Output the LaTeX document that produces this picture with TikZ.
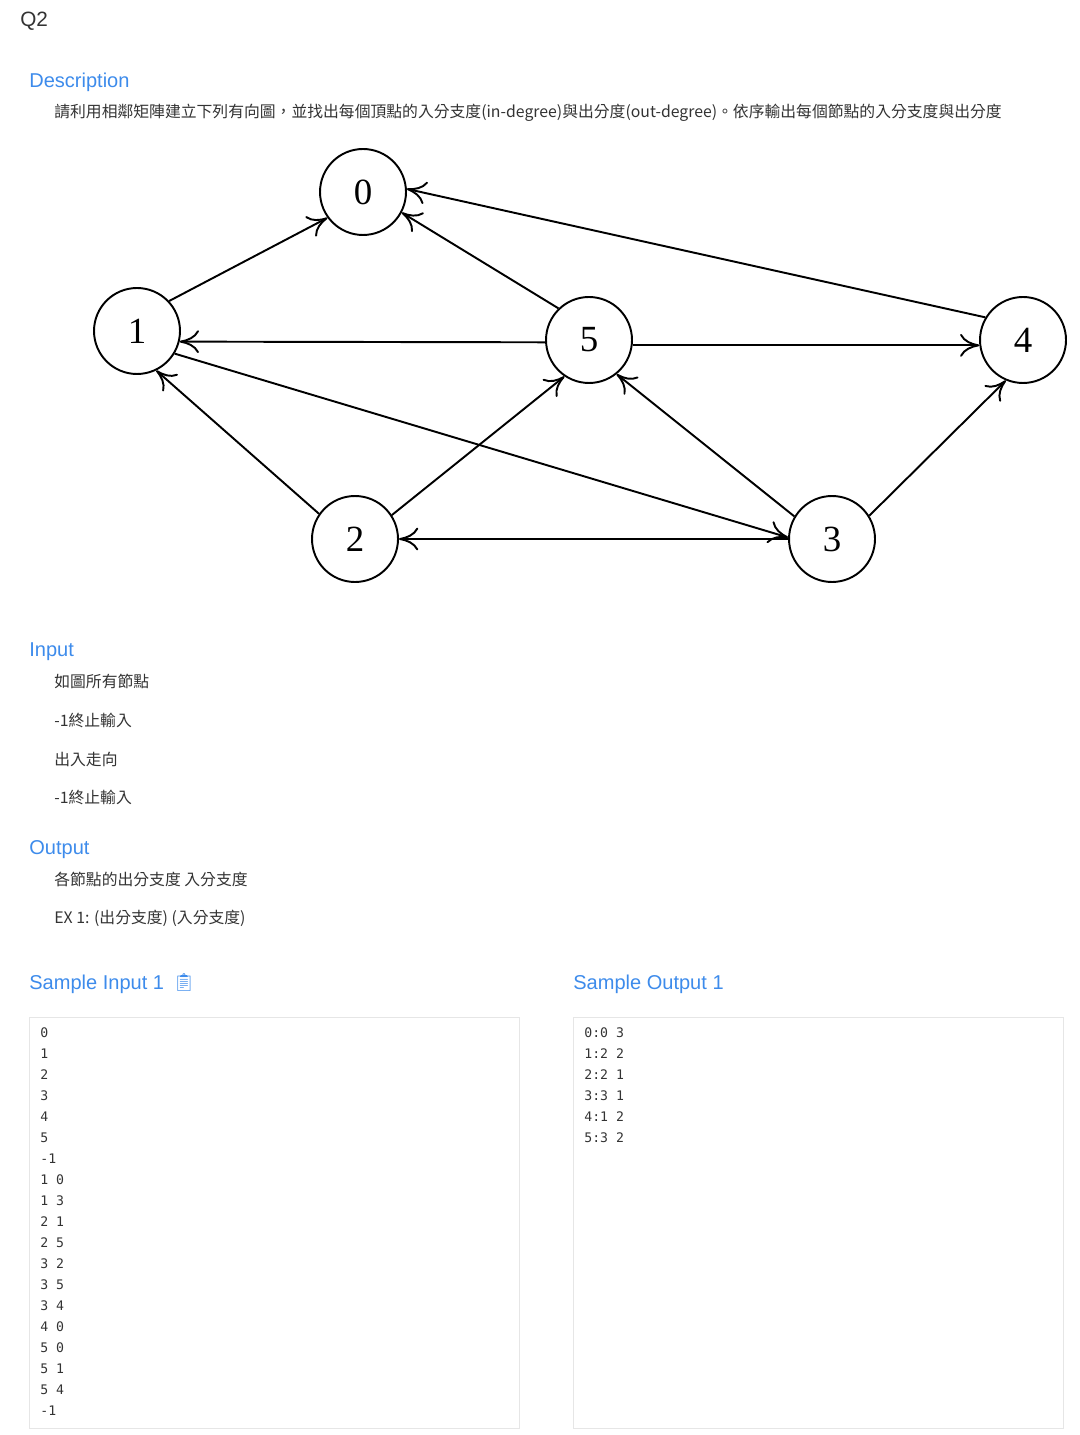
\documentclass[tikz,border=0pt]{standalone}
\usepackage{fontspec}
\setmainfont{Liberation Sans}
\newfontfamily\cjk{Noto Sans CJK TC}
\newfontfamily\digitfont{Liberation Serif}
\newfontfamily\codefont{DejaVu Sans Mono}
\newfontfamily\emojifont{Noto Emoji}
\usepackage{xcolor}
\usetikzlibrary{arrows.meta, positioning}
\definecolor{headblue}{HTML}{3D8BEB}
\definecolor{bodygray}{HTML}{333333}
\definecolor{boxline}{HTML}{E6E6E6}

\begin{document}
\begin{tikzpicture}[
    x=0.02cm, y=-0.02cm,
    vertex/.style={circle, draw, line width=1.1pt, minimum size=1.72cm, inner sep=0pt,
      font=\digitfont\fontsize{21}{21}\selectfont},
    arrow/.style={-{To[length=11pt,width=13pt]}, line width=1.1pt},
    heading/.style={anchor=base west, inner sep=0pt, text=headblue,
      font=\fontsize{11.4}{13}\selectfont},
    body/.style={anchor=base west, inner sep=0pt, text=bodygray,
      font=\cjk\fontsize{9}{11}\selectfont},
    code/.style={anchor=base west, inner sep=0pt, text=bodygray,
      font=\codefont\fontsize{7.5}{9}\selectfont},
    codebox/.style={draw=boxline, line width=0.5pt}
  ]
  \useasboundingbox (0,0) rectangle (1079,1435);

  % Title and description
  \node[heading, text=bodygray, font=\fontsize{11.8}{13}\selectfont] (title) at (20,27) {Q2};
  \node[heading] (desc) at (29,88) {Description};
  \node[body] (desctext) at (54,118) {請利用相鄰矩陣建立下列有向圖，並找出每個頂點的入分支度(in-degree)與出分度(out-degree)。依序輸出每個節點的入分支度與出分度};

  % Graph
  \node[vertex] (n0) at (363,192) {0};
  \node[vertex] (n1) at (137,331) {1};
  \node[vertex] (n5) at (589,340) {5};
  \node[vertex] (n4) at (1023,340) {4};
  \node[vertex] (n2) at (355,539) {2};
  \node[vertex] (n3) at (832,539) {3};

  % Arrows
  \draw[arrow] (n1.43) -- (n0.-144);
  \draw[arrow] (n5.134) -- (n0.-28);
  \draw[arrow] (n4.149) -- (n0.4);
  \draw[arrow] (n5.183) -- (n1.-14);
  \draw[arrow] (n5.-7) -- (n4.-173);
  \draw[arrow] (n1.-31) -- (n3.178);
  \draw[arrow] (n2.145) -- (n1.-64);
  \draw[arrow] (n2.33) -- (n5.-124);
  \draw[arrow] (n3.149) -- (n5.-51);
  \draw[arrow] (n3.32) -- (n4.-113);
  \draw[arrow] (n3.west) -- (n2.east);

  % Input and output
  \node[heading] (input) at (29,656) {Input};
  \node[body] (in1) at (54,687) {如圖所有節點};
  \node[body] (in2) at (54,726) {-1終止輸入};
  \node[body] (in3) at (54,765) {出入走向};
  \node[body] (in4) at (54,803) {-1終止輸入};
  \node[heading] (output) at (29,854) {Output};
  \node[body] (out1) at (54,885) {各節點的出分支度 入分支度};
  \node[body] (out2) at (54,923) {EX 1: (出分支度) (入分支度)};

  % Samples
  \node[heading] (sin) at (29,989) {Sample Input 1};
  \node[text=headblue, font=\emojifont\fontsize{10}{10}\selectfont, inner sep=0pt] (clip) at (184,982) {📋};
  \node[heading] (sout) at (573,989) {Sample Output 1};
  \draw[codebox] (29,1017) rectangle (519,1428);
  \draw[codebox] (573,1017) rectangle (1063,1428);
  \foreach \t [count=\i] in {0,1,2,3,4,5,-1,1 0,1 3,2 1,2 5,3 2,3 5,3 4,4 0,5 0,5 1,5 4,-1}
    \node[code] (sample\i) at (40,{1037+21*(\i-1)}) {\t};
  \foreach \t [count=\i] in {0:0 3,1:2 2,2:2 1,3:3 1,4:1 2,5:3 2}
    \node[code] (result\i) at (584,{1037+21*(\i-1)}) {\t};
\end{tikzpicture}
\end{document}
